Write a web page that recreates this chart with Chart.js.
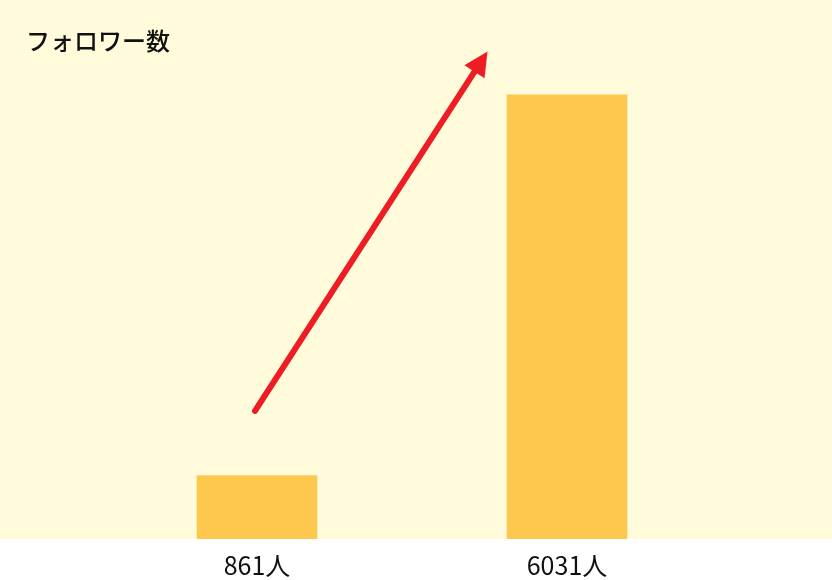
<!DOCTYPE html>
<html lang="ja">
<head>
<meta charset="utf-8">
<script src="https://cdn.jsdelivr.net/npm/chart.js@4.4.1/dist/chart.umd.min.js"></script>
<style>
  html, body { margin: 0; padding: 0; background: #ffffff; }
  #wrap { width: 832px; height: 580px; position: relative; }
</style>
</head>
<body>
<div id="wrap"><canvas id="chart"></canvas></div>
<script>
(() => {
  'use strict';

  // data
  const categories = ['861人', '6031人'];
  const followers = [861, 6031];
  const titleText = 'フォロワー数';
  // arrow from / to, in data units (category index, followers)
  const arrowFrom = [0, 1740];
  const arrowTo = [0.75, 6620];

  const BG_YELLOW = '#fffbdb';
  const BAR_COLOR = '#fec84f';
  const ARROW_RED = '#ee1d25';
  const FONT = '"Noto Sans CJK JP", "Noto Sans", sans-serif';

  /**
   * Paints the yellow panel behind the bars
   */
  const panelPlugin = {
    id: 'panel',
    beforeDraw(chart) {
      const ctx = chart.ctx;
      ctx.save();
      ctx.fillStyle = BG_YELLOW;
      ctx.fillRect(0, 0, chart.width, chart.chartArea.bottom);
      ctx.restore();
    }
  };

  /**
   * Draws the title, category labels and the growth arrow
   */
  const overlayPlugin = {
    id: 'overlay',
    afterDraw(chart) {
      const ctx = chart.ctx;
      const x = chart.scales.x;
      const y = chart.scales.y;

      ctx.save();
      ctx.fillStyle = '#111111';
      ctx.font = `500 24px ${FONT}`;
      ctx.textBaseline = 'alphabetic';
      ctx.textAlign = 'left';
      ctx.fillText(titleText, 26, 50);

      // category labels under the bars
      ctx.font = `25px ${FONT}`;
      ctx.textAlign = 'center';
      categories.forEach((label, i) => {
        ctx.fillText(label, x.getPixelForValue(i), chart.chartArea.bottom + 36);
      });

      const x0 = x.getPixelForValue(arrowFrom[0]) - 2;
      const y0 = y.getPixelForValue(arrowFrom[1]);
      const x1 = x0 + (x.getPixelForValue(1) - x.getPixelForValue(0)) * arrowTo[0];
      const y1 = y.getPixelForValue(arrowTo[1]);
      const ang = Math.atan2(y1 - y0, x1 - x0);
      const headLen = 24;
      const headHalf = 12;
      const bx = x1 - Math.cos(ang) * headLen;
      const by = y1 - Math.sin(ang) * headLen;

      ctx.strokeStyle = ARROW_RED;
      ctx.fillStyle = ARROW_RED;
      ctx.lineWidth = 6;
      ctx.lineCap = 'round';
      ctx.beginPath();
      ctx.moveTo(x0, y0);
      ctx.lineTo(bx + Math.cos(ang) * 4, by + Math.sin(ang) * 4);
      ctx.stroke();

      ctx.beginPath();
      ctx.moveTo(x1, y1);
      ctx.lineTo(bx + Math.sin(ang) * headHalf, by - Math.cos(ang) * headHalf);
      ctx.lineTo(bx - Math.sin(ang) * headHalf, by + Math.cos(ang) * headHalf);
      ctx.closePath();
      ctx.fill();
      ctx.restore();
    }
  };

  new Chart(document.getElementById('chart'), {
    type: 'bar',
    data: {
      labels: categories,
      datasets: [{
        data: followers,
        backgroundColor: BAR_COLOR,
        borderWidth: 0,
        barThickness: 120
      }]
    },
    options: {
      responsive: true,
      maintainAspectRatio: false,
      animation: false,
      layout: { padding: { left: 102, right: 110, top: 0, bottom: 41 } },
      plugins: {
        legend: { display: false },
        tooltip: { enabled: false },
        title: { display: false }
      },
      scales: {
        x: {
          display: false
        },
        y: {
          display: false,
          min: 0,
          max: 7320
        }
      }
    },
    plugins: [panelPlugin, overlayPlugin]
  });
})();
</script>
</body>
</html>
